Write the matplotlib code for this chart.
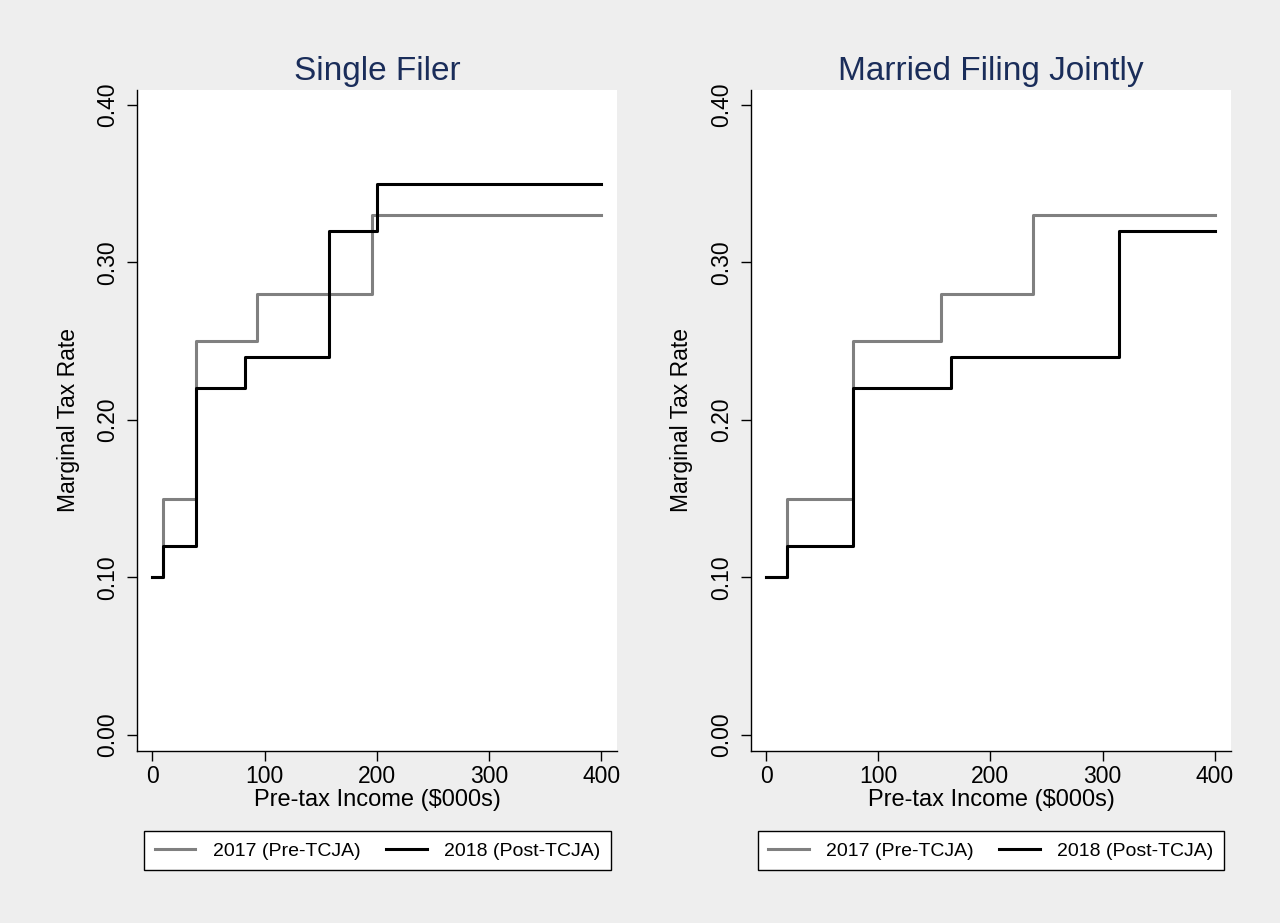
import matplotlib.pyplot as plt

plt.rcParams['font.family'] = ['Liberation Sans', 'DejaVu Sans']

# ==== Data (bracket thresholds in $000s, marginal rates) ====
panels = ['Single Filer', 'Married Filing Jointly']

single_2017_x = [0, 9.525, 38.7, 93.7, 195.45, 400]
single_2017_y = [0.10, 0.15, 0.25, 0.28, 0.33, 0.33]
single_2018_x = [0, 9.525, 38.7, 82.5, 157.5, 200, 400]
single_2018_y = [0.10, 0.12, 0.22, 0.24, 0.32, 0.35, 0.35]

joint_2017_x = [0, 19.05, 77.4, 156.15, 237.95, 400]
joint_2017_y = [0.10, 0.15, 0.25, 0.28, 0.33, 0.33]
joint_2018_x = [0, 19.05, 77.4, 165, 315, 400]
joint_2018_y = [0.10, 0.12, 0.22, 0.24, 0.32, 0.32]

series_labels = ['2017 (Pre-TCJA)', '2018 (Post-TCJA)']
x_ticks = [0, 100, 200, 300, 400]
y_ticks = [0.0, 0.1, 0.2, 0.3, 0.4]

BG = '#eeeeee'
TITLE_COLOR = '#1a2d5a'
GRAY = '#808080'

fig = plt.figure(figsize=(12.8, 9.23), dpi=100, facecolor=BG)
ax_left = fig.add_axes([0.1073, 0.1867, 0.375, 0.7158])
ax_right = fig.add_axes([0.5867, 0.1867, 0.375, 0.7158])

data = [
    (single_2017_x, single_2017_y, single_2018_x, single_2018_y),
    (joint_2017_x, joint_2017_y, joint_2018_x, joint_2018_y),
]

for ax, title, (x17, y17, x18, y18) in zip([ax_left, ax_right], panels, data):
    ax.set_facecolor('white')
    ax.step(x17, y17, where='post', color=GRAY, lw=2.2, label=series_labels[0])
    ax.step(x18, y18, where='post', color='black', lw=2.2, label=series_labels[1])

    ax.set_xlim(-13.4, 414.5)
    ax.set_ylim(-0.01, 0.4095)
    ax.set_xticks(x_ticks)
    ax.set_yticks(y_ticks)
    ax.set_yticklabels([f'{v:.2f}' for v in y_ticks], rotation=90, va='center')
    ax.tick_params(labelsize=16.5, length=7, width=1)
    ax.tick_params(axis='x', pad=3)
    ax.tick_params(axis='y', pad=6)

    for side in ['top', 'right']:
        ax.spines[side].set_visible(False)
    for side in ['left', 'bottom']:
        ax.spines[side].set_linewidth(1)

    ax.set_title(title, fontsize=24, color=TITLE_COLOR, pad=7.5)
    ax.set_xlabel('Pre-tax Income ($000s)', fontsize=17, labelpad=1)
    ax.set_ylabel('Marginal Tax Rate', fontsize=16.5, labelpad=12)

    leg = ax.legend(loc='center', bbox_to_anchor=(0.5, -0.1518), ncol=2,
                    fontsize=14, frameon=True, fancybox=False,
                    handlelength=2.1, handletextpad=0.89, columnspacing=1.3,
                    borderpad=0.55)
    leg.get_frame().set_edgecolor('black')
    leg.get_frame().set_linewidth(1)
    leg.get_frame().set_alpha(1)

fig.savefig('out.png', dpi=100, facecolor=BG)
